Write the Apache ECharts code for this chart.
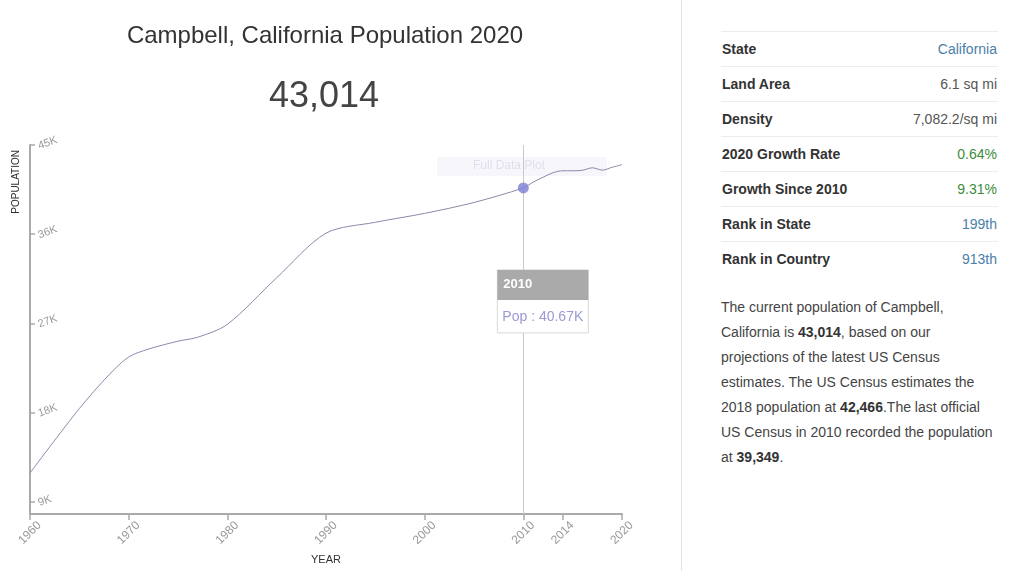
<!DOCTYPE html>
<html>
<head>
<meta charset="utf-8">
<script src="https://cdn.jsdelivr.net/npm/echarts@6/dist/echarts.min.js"></script>
<style>
  html, body { margin: 0; padding: 0; background: #fff; width: 1010px; height: 571px; overflow: hidden; font-family: "Liberation Sans", Arial, sans-serif; }
  #chart { position: absolute; left: 0; top: 0; width: 680px; height: 571px; }
  #divider { position: absolute; left: 681px; top: 0; width: 1px; height: 571px; background: #e6e6e6; }
  #panel { position: absolute; left: 721px; top: 31px; width: 277px; }
  table { width: 100%; border-collapse: collapse; font-size: 14px; }
  td { height: 34px; border-top: 1px solid #ececec; padding: 0 1px; color: #333; }
  td.k { font-weight: bold; color: #333; }
  td.v { text-align: right; color: #555; }
  td.blue { color: #4a80a8; }
  td.green { color: #3c8c3c; }
  p { margin: 19px 0 0 0; font-size: 14px; line-height: 25px; color: #444; white-space: nowrap; }
  p b { color: #333; }
</style>
</head>
<body>
<div id="chart"></div>
<div id="divider"></div>
<div id="panel">
  <table>
    <tr><td class="k">State</td><td class="v blue">California</td></tr>
    <tr><td class="k">Land Area</td><td class="v">6.1 sq mi</td></tr>
    <tr><td class="k">Density</td><td class="v">7,082.2/sq mi</td></tr>
    <tr><td class="k">2020 Growth Rate</td><td class="v green">0.64%</td></tr>
    <tr><td class="k">Growth Since 2010</td><td class="v green">9.31%</td></tr>
    <tr><td class="k">Rank in State</td><td class="v blue">199th</td></tr>
    <tr><td class="k">Rank in Country</td><td class="v blue">913th</td></tr>
  </table>
  <p>The current population of Campbell,<br>California is <b>43,014</b>, based on our<br>projections of the latest US Census<br>estimates. The US Census estimates the<br>2018 population at <b>42,466</b>.The last official<br>US Census in 2010 recorded the population<br>at <b>39,349</b>.</p>
</div>
<script>
// ---- data ----
const years = [1960, 1965, 1968, 1970, 1972, 1975, 1977, 1980, 1985, 1990, 1995, 2000, 2005, 2010, 2011, 2012, 2013, 2014, 2015, 2016, 2017, 2018, 2019, 2020];
const population = [11900, 18400, 21800, 23600, 24400, 25200, 25600, 26900, 31600, 36100, 37200, 38100, 39200, 40670, 41250, 41750, 42200, 42400, 42400, 42450, 42700, 42466, 42750, 43014];
const xTickValues = [1960, 1970, 1980, 1990, 2000, 2010, 2014, 2020];
const yTickValues = [9000, 18000, 27000, 36000, 45000];
const highlightYear = 2010;
const titleText = 'Campbell, California Population 2020';
const headlineText = '43,014';

const chart = echarts.init(document.getElementById('chart'), null, { renderer: 'canvas' });
const seriesData = years.map((y, i) => [y, population[i]]);
const hiIdx = years.indexOf(highlightYear);
const hiPoint = seriesData[hiIdx];
const fontFam = '"Liberation Sans", Arial, sans-serif';

chart.setOption({
  animation: false,
  title: [
    { text: titleText, left: 320, top: 19, textAlign: 'center',
      textStyle: { fontFamily: fontFam, fontSize: 24, fontWeight: 'normal', color: '#333' } },
    { text: headlineText, left: 319, top: 74, textAlign: 'center',
      textStyle: { fontFamily: fontFam, fontSize: 36, fontWeight: 'normal', color: '#444' } }
  ],
  grid: { left: 30, right: 58, top: 145, bottom: 57, containLabel: false },
  xAxis: {
    type: 'value', min: 1960, max: 2020,
    name: 'YEAR', nameLocation: 'middle', nameGap: 40,
    nameTextStyle: { fontFamily: fontFam, fontSize: 11, color: '#333' },
    axisLine: { show: true, lineStyle: { color: '#aaa', width: 2 } },
    axisTick: { show: true, length: 6, lineStyle: { color: '#aaa', width: 1.5 }, customValues: xTickValues },
    axisLabel: { customValues: xTickValues, rotate: 45, margin: 19, align: 'center', verticalAlign: 'middle',
      color: '#999', fontSize: 12, fontFamily: fontFam, formatter: v => String(v) },
    splitLine: { show: false }
  },
  yAxis: {
    type: 'value', min: 7760, max: 45000,
    name: 'POPULATION', nameLocation: 'end', nameRotate: 90, nameGap: -5,
    nameTextStyle: { fontFamily: fontFam, fontSize: 10, color: '#333', align: 'right', verticalAlign: 'bottom', padding: [0, 0, 9, 0] },
    axisLine: { show: true, lineStyle: { color: '#aaa', width: 2 } },
    axisTick: { show: true, inside: true, length: 5, lineStyle: { color: '#aaa', width: 1.5 }, customValues: yTickValues },
    axisLabel: { customValues: yTickValues, inside: true, rotate: 20, margin: 8, color: '#999', fontSize: 11, fontFamily: fontFam,
      verticalAlign: 'top', padding: [-4, 0, 0, 0],
      formatter: v => (v / 1000) + 'K' },
    splitLine: { show: false }
  },
  series: [
    {
      type: 'line', data: seriesData, smooth: 0.3, showSymbol: false,
      lineStyle: { color: '#8a8aaa', width: 1 },
      markLine: {
        silent: true, symbol: 'none', label: { show: false },
        lineStyle: { color: '#c8c8c8', width: 1, type: 'solid' },
        data: [{ xAxis: highlightYear }]
      },
      z: 2
    },
    {
      type: 'scatter', data: [hiPoint], symbolSize: 11,
      itemStyle: { color: '#7c7fd2' }, z: 5
    }
  ]
});

// static tooltip anchored to the highlighted data point
const p = chart.convertToPixel({ gridIndex: 0 }, hiPoint);
const tx = p[0] - 26, ty = p[1] + 82;
chart.setOption({
  graphic: [
    { type: 'rect', shape: { x: 437, y: 157, width: 170, height: 19 }, style: { fill: '#f6f6fb' }, z: 1, silent: true },
    { type: 'text', x: 509, y: 166, style: { text: 'Full Data Plot', fill: '#e0e0ec', font: '12px ' + fontFam, align: 'center', verticalAlign: 'middle' }, z: 1, silent: true },
    { type: 'rect', shape: { x: tx, y: ty, width: 91, height: 63 }, style: { fill: '#fff', stroke: '#d8d8d8', lineWidth: 1 }, z: 10 },
    { type: 'rect', shape: { x: tx, y: ty, width: 91, height: 30 }, style: { fill: '#aaaaaa' }, z: 11 },
    { type: 'text', x: tx + 6, y: ty + 15, style: { text: String(highlightYear), fill: '#fff', font: 'bold 13px ' + fontFam, verticalAlign: 'middle' }, z: 12 },
    { type: 'text', x: tx + 5, y: ty + 47, style: { text: 'Pop : ' + (hiPoint[1] / 1000).toFixed(2) + 'K', fill: '#9a9ad6', font: '14px ' + fontFam, verticalAlign: 'middle' }, z: 12 }
  ]
});
</script>
</body>
</html>
